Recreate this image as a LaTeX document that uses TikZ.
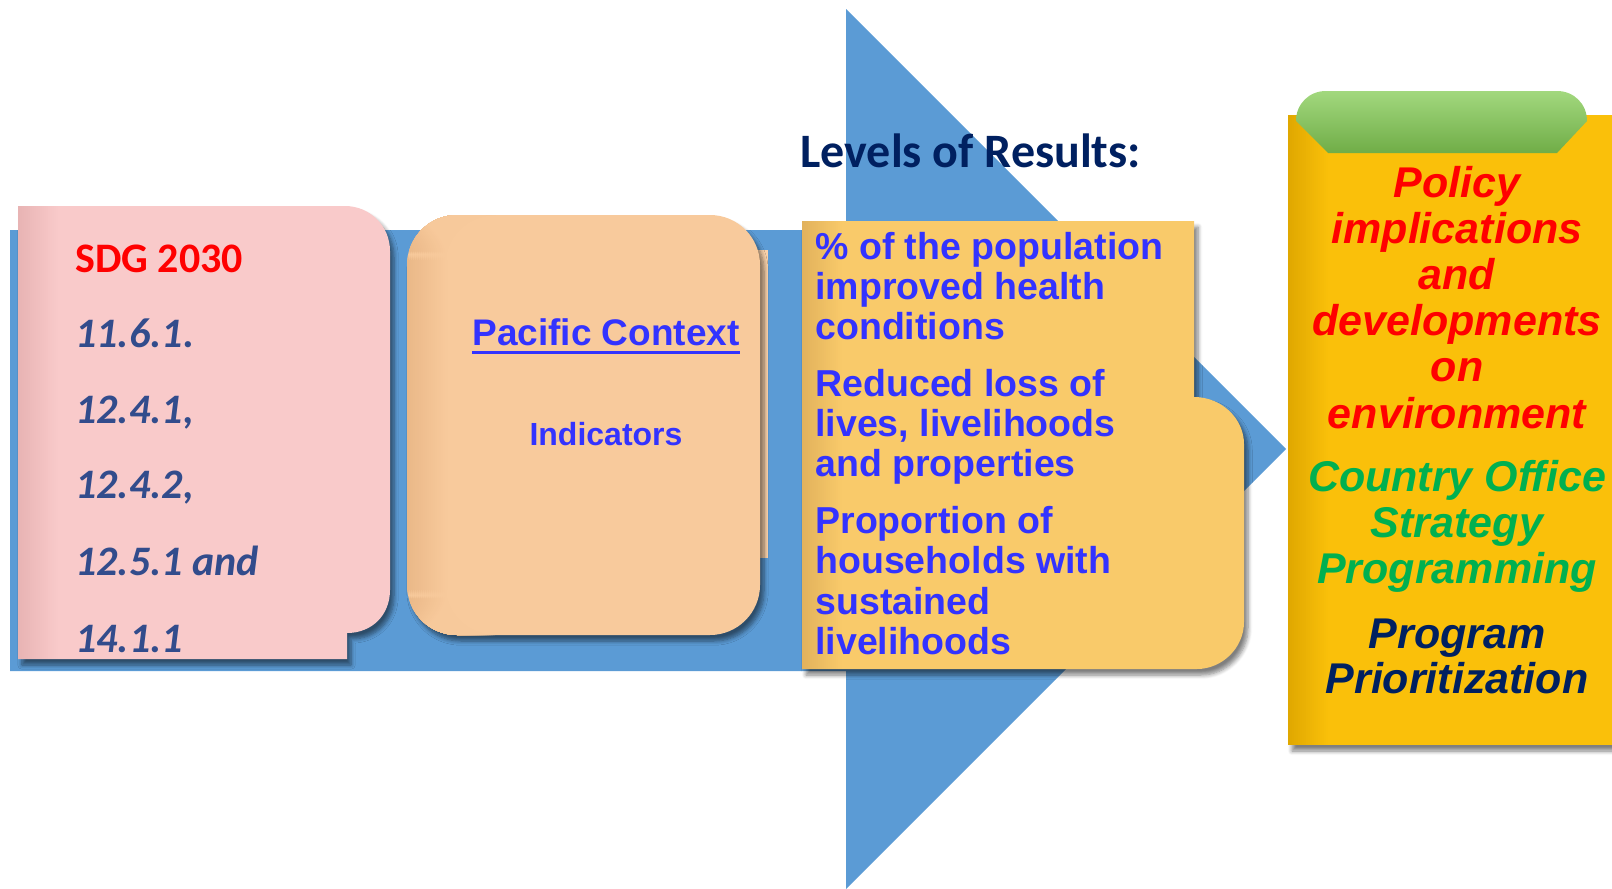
\documentclass[tikz,border=0pt]{standalone}
\usepackage{fontspec}
\setmainfont{Liberation Sans}
\newfontfamily\calibri{Carlito}
\usetikzlibrary{shadows.blur}

\definecolor{arrowblue}{RGB}{91,155,213}
\definecolor{sdgpink}{RGB}{249,202,202}
\definecolor{sdgpinkdark}{RGB}{232,180,180}
\definecolor{ctxpeach}{RGB}{248,202,156}
\definecolor{ctxpeachdark}{RGB}{234,184,136}
\definecolor{resyellow}{RGB}{249,202,106}
\definecolor{resyellowdark}{RGB}{226,178,92}
\definecolor{polgold}{RGB}{250,192,10}
\definecolor{polgolddark}{RGB}{224,168,0}
\definecolor{tabgreen}{RGB}{112,173,71}
\definecolor{tabgreenlight}{RGB}{162,216,126}
\definecolor{goalblue}{RGB}{50,76,140}
\definecolor{textblue}{RGB}{51,51,255}
\definecolor{navy}{RGB}{0,32,96}
\definecolor{officegreen}{RGB}{0,176,80}

\tikzset{
  panel/.style 2 args={fill=#1,
    blur shadow={shadow xshift=2pt, shadow yshift=-3pt, shadow opacity=50, shadow blur steps=6},
    path picture={
      \foreach \k [evaluate=\k as \p using int(\k*5)] in {0,...,19}
        \fill[#1!\p!#2] ([xshift=\k pt]path picture bounding box.south west) rectangle ([xshift=\k pt+1.1pt]path picture bounding box.north west);
    }},
  txt/.style={inner sep=0pt, anchor=base west},
  goal/.style={txt, text=goalblue, font=\calibri\bfseries\itshape\fontsize{21}{25}\selectfont},
  result/.style={txt, text=textblue, font=\bfseries\fontsize{18.75}{22}\selectfont},
  policy/.style={inner sep=0pt, anchor=base, font=\bfseries\itshape\fontsize{21.5}{25}\selectfont},
}

\begin{document}
\begin{tikzpicture}[x=0.5pt, y=-0.5pt]
\useasboundingbox (0,0) rectangle (1612,889);
\clip (0,0) rectangle (1612,889);

% big arrow behind everything
\fill[arrowblue] (10,230) -- (846,230) -- (846,9) -- (1286,449) -- (846,889) -- (846,671) -- (10,671) -- cycle;

% SDG panel
\fill[panel={sdgpink}{sdgpinkdark}] (18,206) -- (345,206) .. controls (370,206) and (390,226) .. (390,251)
  -- (390,590) .. controls (390,615) and (372,633) .. (347,633) -- (347,659) -- (18,659) -- cycle;

% context panel
\fill[ctxpeach!85!white] (740,250) -- (768,250) -- (768,558) -- (740,558) -- cycle;
\fill[panel={ctxpeach}{ctxpeachdark}, rounded corners=25pt] (407,215) rectangle (760,635);

% results panel
\fill[panel={resyellow}{resyellowdark}] (802,221) -- (1194,221) -- (1194,397)
  .. controls (1222,397) and (1244,419) .. (1244,444) -- (1244,622)
  .. controls (1244,648) and (1222,669) .. (1197,669) -- (802,669) -- cycle;

% policy panel
\fill[panel={polgold}{polgolddark}] (1288,115) rectangle (1640,745);
\shade[top color=tabgreenlight, bottom color=tabgreen] (1328,153) -- (1296,121)
  .. controls (1296,104) and (1309,91) .. (1326,91) -- (1557,91)
  .. controls (1574,91) and (1587,104) .. (1587,121) -- (1557,153) -- cycle;

\node[txt, text=navy, font=\calibri\bfseries\fontsize{24}{28}\selectfont] (levels) at (800,167) {Levels of Results:};

\node[txt, text=red, font=\calibri\bfseries\fontsize{21}{25}\selectfont] (sdg) at (75,272) {SDG 2030};
\foreach \y/\t [count=\i] in {347/{11.6.1.}, 423/{12.4.1,}, 498/{12.4.2,}, 575/{12.5.1 and}, 652/{14.1.1}}
  \node[goal] (goal\i) at (75,\y) {\t};

\node[inner sep=0pt, anchor=base, text=textblue, font=\bfseries\fontsize{18.5}{22}\selectfont] (pacific) at (606,345) {Pacific Context};
\draw[textblue, line width=1.5pt] ([yshift=-3.5pt]pacific.base west) -- ([yshift=-3.5pt]pacific.base east);
\node[inner sep=0pt, anchor=base, text=textblue, font=\bfseries\fontsize{16}{20}\selectfont] (indicators) at (606,445) {Indicators};

\foreach \y/\t [count=\i] in {259/{\% of the population}, 299/{improved health}, 339/{conditions},
    396/{Reduced loss of}, 436/{lives, livelihoods}, 476/{and properties},
    533/{Proportion of}, 573/{households with}, 614/{sustained}, 654/{livelihoods}}
  \node[result] (res\i) at (815,\y) {\t};

\foreach \y/\c/\t [count=\i] in {197/red/Policy, 243/red/implications, 289/red/and, 335/red/developments,
    381/red/on, 428/red/environment, 491/officegreen/Country Office, 537/officegreen/Strategy,
    583/officegreen/Programming, 648/navy/Program, 693/navy/Prioritization}
  \node[policy, text=\c] (pol\i) at (1457,\y) {\t};
\end{tikzpicture}
\end{document}
